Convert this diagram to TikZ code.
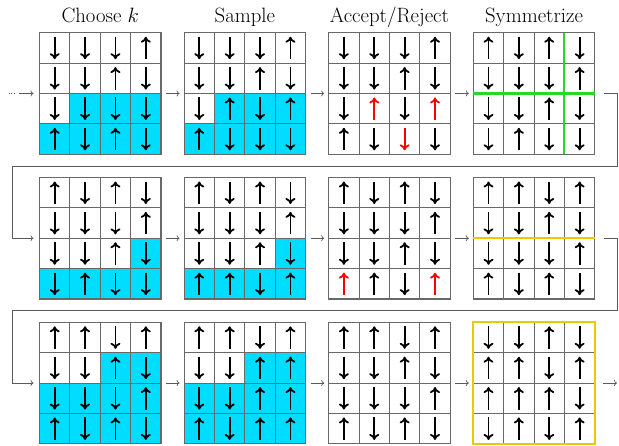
\documentclass[tikz,border=0pt]{standalone}
\usetikzlibrary{arrows.meta,calc}
\definecolor{cellcyan}{RGB}{0,221,255}
\definecolor{symgreen}{RGB}{40,215,40}
\definecolor{symyellow}{RGB}{232,204,0}
\definecolor{linegray}{RGB}{90,90,90}
\definecolor{cellgray}{RGB}{105,105,105}
\tikzset{
  gridnode/.style={minimum size=121.5pt, inner sep=0pt, outer sep=0pt},
  cellfill/.style={fill=cellcyan},
  cellline/.style={draw=cellgray, line width=1.1pt},
  spinarrow/.style={line width=1.8pt, black},
  spin U/.style={{To[length=6pt,width=10pt]}-},
  spin D/.style={-{To[length=6pt,width=10pt]}},
  spin u/.style={spin U, red},
  spin d/.style={spin D, red},
  conn/.style={draw=linegray, line width=0.7pt, -{To[length=3pt,width=6pt]}},
  gridtitle/.style={font=\huge, anchor=base, inner sep=0pt},
  symline/.style={line width=2pt},
}
\newcommand\gridat[3]{%
  \node[gridnode] (#1) at (#2+60.75,#3+60.75) {};}
\newcommand\fillcells[2]{%
  \foreach \r/\c in {#2} {\fill[cellfill] ($(#1.north west)+(\c*30.375-30.375,\r*30.375-30.375)$) rectangle ++(30.375,30.375);}}
\newcommand\gridbody[2]{%
  \foreach \k in {1,2,3} {
    \draw[cellline] ($(#1.north west)+(\k*30.375,0)$) -- ++(0,121.5);
    \draw[cellline] ($(#1.north west)+(0,\k*30.375)$) -- ++(121.5,0);
  }
  \draw[cellline] (#1.north west) rectangle (#1.south east);
  \foreach \s [count=\i from 0] in {#2} {
    \pgfmathtruncatemacro\rr{div(\i,4)}
    \pgfmathtruncatemacro\cc{mod(\i,4)}
    \draw[spinarrow, spin \s] ($(#1.north west)+(\cc*30.375+15.19,\rr*30.375+4)$) -- ++(0,22.5);
  }}
\begin{document}
\begin{tikzpicture}[x=1pt,y=-1pt]
\useasboundingbox (0,0) rectangle (619,445);
% row 1
\gridat{gA}{39.5}{32.7}
\fillcells{gA}{3/2,3/3,3/4,4/1,4/2,4/3,4/4}
\gridbody{gA}{D,D,D,U, D,D,U,D, D,D,D,D, U,D,U,D}
\gridat{gB}{184.1}{32.7}
\fillcells{gB}{3/2,3/3,3/4,4/1,4/2,4/3,4/4}
\gridbody{gB}{D,D,D,U, D,D,U,D, D,U,D,U, U,D,D,D}
\gridat{gC}{328.7}{32.7}
\gridbody{gC}{D,D,D,U, D,D,U,D, D,u,D,u, U,D,d,D}
\gridat{gD}{473.3}{32.7}
\gridbody{gD}{U,D,U,D, D,D,D,U, D,D,U,D, D,U,D,D}
\draw[symgreen, line width=2.2pt] (gD.west) -- (gD.east);
\draw[symgreen, symline] ($(gD.north west)+(91.125,0)$) -- ($(gD.south west)+(91.125,0)$);
% titles
\node[gridtitle] (tA) at (gA.center |- 0,22.5) {Choose $k$};
\node[gridtitle] (tB) at (gB.center |- 0,22.5) {Sample};
\node[gridtitle] (tC) at (gC.center |- 0,22.5) {Accept/Reject};
\node[gridtitle] (tD) at (gD.center |- 0,22.5) {Symmetrize};
% row 2
\gridat{gE}{39.5}{177.5}
\fillcells{gE}{3/4,4/1,4/2,4/3,4/4}
\gridbody{gE}{U,D,U,D, D,D,D,U, D,D,U,D, D,U,D,D}
\gridat{gF}{184.1}{177.5}
\fillcells{gF}{3/4,4/1,4/2,4/3,4/4}
\gridbody{gF}{U,D,U,D, D,D,D,U, D,D,U,D, U,U,D,U}
\gridat{gG}{328.7}{177.5}
\gridbody{gG}{U,D,U,D, D,D,D,U, D,D,U,D, u,U,D,u}
\gridat{gH}{473.3}{177.5}
\gridbody{gH}{U,U,D,U, D,D,U,D, D,D,D,U, U,D,U,D}
\draw[symline, symyellow] ($(gH.north west)+(0,60.75)$) -- ++(121.5,0);
% row 3
\gridat{gI}{39.5}{322.3}
\fillcells{gI}{2/3,2/4,3/1,3/2,3/3,3/4,4/1,4/2,4/3,4/4}
\gridbody{gI}{U,U,D,U, D,D,U,D, D,D,D,U, U,D,U,D}
\gridat{gJ}{184.1}{322.3}
\fillcells{gJ}{2/3,2/4,3/1,3/2,3/3,3/4,4/1,4/2,4/3,4/4}
\gridbody{gJ}{U,U,D,U, D,D,U,U, D,D,U,U, U,D,U,U}
\gridat{gK}{328.7}{322.3}
\gridbody{gK}{U,U,D,U, D,D,U,D, D,D,D,U, U,D,U,D}
\gridat{gL}{473.3}{322.3}
\gridbody{gL}{D,D,U,D, U,U,D,U, U,U,U,D, D,U,D,U}
\draw[symyellow, line width=2.2pt] (gL.north west) rectangle (gL.south east);
% connectors
\coordinate (dotsL) at (9,93.45);
\coordinate (dotsR) at (15,93.45);
\coordinate (startin) at (19,93.45);
\draw[linegray, line width=0.8pt, dash pattern=on 0.8pt off 1.5pt] (dotsL) -- (dotsR);
\draw[conn, shorten >=6pt] (startin) -- (gA);
\foreach \a/\b in {gA/gB,gB/gC,gC/gD,gE/gF,gF/gG,gG/gH,gI/gJ,gJ/gK,gK/gL}
  \draw[conn, shorten <=5pt, shorten >=4.5pt] (\a) -- (\b);
\coordinate (retAr) at (617,165.9);
\coordinate (retAl) at (12,165.9);
\coordinate (retBr) at (617,310.6);
\coordinate (retBl) at (12,310.6);
\draw[conn, shorten <=9pt, shorten >=6pt] (gD.east) -| (retAr) -- (retAl) |- (gE.west);
\draw[conn, shorten <=9pt, shorten >=6pt] (gH.east) -| (retBr) -- (retBl) |- (gI.west);
\coordinate (endout) at (617,383.05);
\draw[conn, shorten <=8pt] (gL) -- (endout);
\end{tikzpicture}
\end{document}
